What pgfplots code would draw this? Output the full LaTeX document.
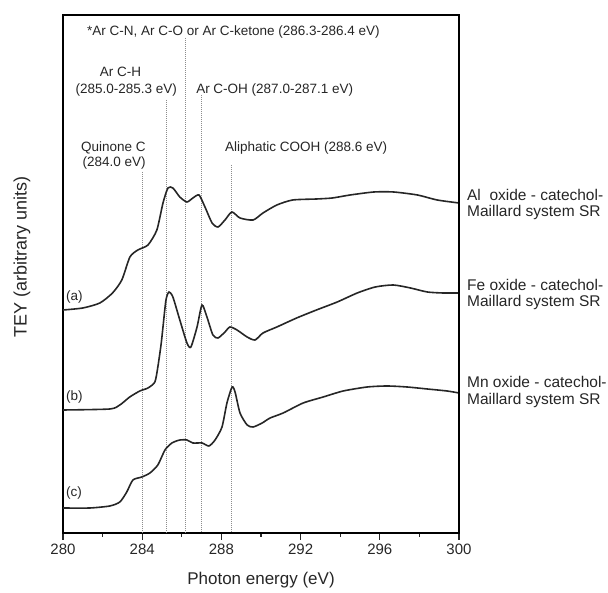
\documentclass[border=0pt]{standalone}
\usepackage{pgfplots}
\pgfplotsset{compat=1.18}
\usepackage{fontspec}
\setmainfont{Liberation Sans}
\definecolor{ink}{HTML}{262626}
\definecolor{dotc}{HTML}{8C8C8C}
\begin{document}
\begin{tikzpicture}
\path[use as bounding box] (-63pt,-60pt) rectangle (545pt,533pt);
\begin{axis}[
  at={(0,0)}, anchor=south west,
  width=396pt, height=518pt, scale only axis,
  xmin=280, xmax=300, ymin=0, ymax=518,
  axis line style={black, line width=1.5pt},
  xtick={280,284,...,300},
  minor xtick={282,286,...,298},
  ytick=\empty,
  xtick pos=left,
  tick align=outside,
  major tick length=7pt, minor tick length=4pt,
  every tick/.style={ink, line width=1.2pt},
  tick label style={font=\fontsize{15}{17}\selectfont, text=ink},
  /pgf/number format/assume math mode=true,
  xticklabel style={/pgf/number format/set thousands separator={}},
  clip=false,
]
% dotted reference lines
\addplot[dotc, densely dotted, line width=1pt] coordinates {(284.0,361) (284.0,0)};
\addplot[dotc, densely dotted, line width=1pt] coordinates {(285.25,433) (285.25,0)};
\addplot[dotc, densely dotted, line width=1pt] coordinates {(286.2,495) (286.2,0)};
\addplot[dotc, densely dotted, line width=1pt] coordinates {(287.0,438) (287.0,0)};
\addplot[dotc, densely dotted, line width=1pt] coordinates {(288.5,368) (288.5,0)};
% (a) Al oxide
\addplot[ink, line width=1.6pt, smooth, tension=0.4] coordinates {
(280.0,223) (281.0,225) (281.86,230) (282.5,240) (282.97,253) (283.38,276)
(283.78,283) (284.29,288) (284.74,303) (285.05,330) (285.3,345) (285.55,345)
(285.9,336) (286.26,331) (286.56,335) (286.87,338) (287.17,326) (287.53,310)
(287.83,306) (288.18,313) (288.53,321) (288.94,315) (289.6,313) (290.1,320)
(290.8,328) (291.6,333) (292.8,334) (293.6,335) (294.5,338) (295.7,341)
(296.7,341) (297.9,338) (298.9,333) (300.0,330)};
% (b) Fe oxide
\addplot[ink, line width=1.6pt, smooth, tension=0.4] coordinates {
(280.0,123) (282.36,124) (282.87,128) (283.37,136) (283.88,142) (284.29,145)
(284.64,151) (284.79,166) (284.95,188) (285.05,206) (285.2,233) (285.35,241)
(285.55,236) (285.9,213) (286.26,190) (286.46,186) (286.77,206) (287.02,228)
(287.27,216) (287.57,198) (287.83,195) (288.18,201) (288.43,206) (288.79,203)
(289.3,196) (289.7,193) (290.1,200) (290.8,206) (291.8,215) (292.8,223)
(293.85,231) (294.86,240) (295.77,246) (296.68,248) (297.55,245) (298.4,241)
(299.2,240) (300.0,240)};
% (c) Mn oxide
\addplot[ink, line width=1.6pt, smooth, tension=0.4] coordinates {
(280.0,25) (281.35,25) (282.36,27) (282.87,31) (283.22,41) (283.53,53)
(283.98,56) (284.39,60) (284.79,68) (285.15,83) (285.5,90) (285.9,93)
(286.26,93) (286.56,90) (287.02,90) (287.37,87) (287.68,93) (288.03,106)
(288.28,130) (288.54,146) (288.69,141) (288.94,120) (289.3,108) (289.6,106)
(290.06,110) (290.46,115) (291.12,120) (292.13,130) (293.14,136) (294.15,142)
(295.36,146) (296.37,147) (297.38,146) (298.4,144) (299.4,142) (300.0,140)};
% annotations
\begin{scope}[every node/.style={font=\fontsize{13.5}{15}\selectfont, text=ink, inner sep=0pt}]
\node at (axis cs:288.61,501) {*Ar C-N, Ar C-O or Ar C-ketone (286.3-286.4 eV)};
\node at (axis cs:282.9,461) {Ar C-H};
\node at (axis cs:283.2,443) {(285.0-285.3 eV)};
\node[anchor=west] at (axis cs:286.72,443) {Ar C-OH (287.0-287.1 eV)};
\node at (axis cs:282.55,385) {Quinone C};
\node at (axis cs:282.58,370) {(284.0 eV)};
\node[anchor=west] at (axis cs:288.18,385) {Aliphatic COOH (288.6 eV)};
\node[anchor=west] at (axis cs:280.15,236) {(a)};
\node[anchor=west] at (axis cs:280.15,136) {(b)};
\node[anchor=west] at (axis cs:280.15,40) {(c)};
\end{scope}
\begin{scope}[every node/.style={font=\fontsize{15.5}{17.5}\selectfont, text=ink, inner sep=0pt, anchor=west}]
\node at (axis cs:300.4,338) {Al\ \ oxide - catechol-};
\node at (axis cs:300.4,320) {Maillard system SR};
\node at (axis cs:300.4,248) {Fe oxide - catechol-};
\node at (axis cs:300.4,231) {Maillard system SR};
\node at (axis cs:300.4,151) {Mn oxide - catechol-};
\node at (axis cs:300.4,133) {Maillard system SR};
\end{scope}
\node[font=\fontsize{18}{20}\selectfont, text=ink, rotate=90, inner sep=0pt] at (axis cs:277.93,276) {TEY (arbitrary units)};
\node[font=\fontsize{17}{19}\selectfont, text=ink, inner sep=0pt] at (axis cs:290,-47) {Photon energy (eV)};
\end{axis}
\draw[black, line width=1.5pt] (0pt,518pt) -- (396pt,518pt) -- (396pt,0pt);
\end{tikzpicture}
\end{document}
